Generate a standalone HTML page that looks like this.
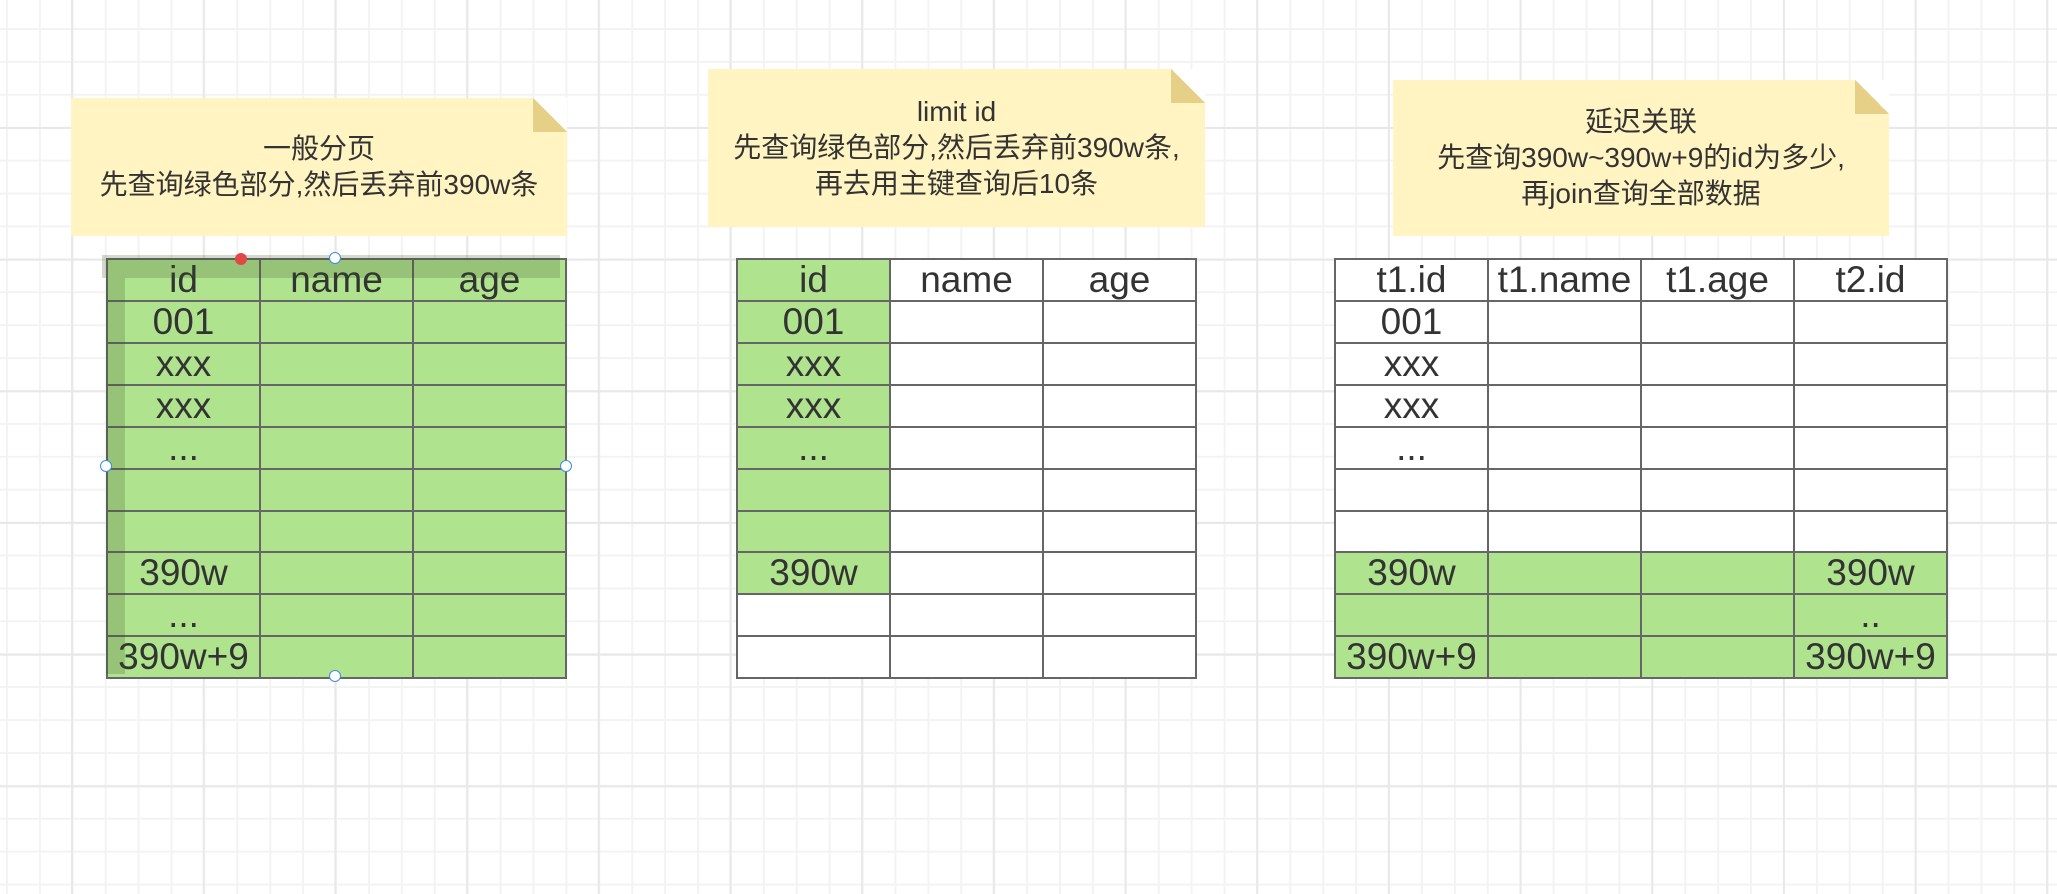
<!DOCTYPE html>
<html><head><meta charset="utf-8">
<style>
html,body{margin:0;padding:0;}
body{width:2057px;height:894px;position:relative;overflow:hidden;background-color:#fff;
background-image:
linear-gradient(to right,#e8e8e8 2px,transparent 2px),
linear-gradient(to bottom,#e8e8e8 2px,transparent 2px),
linear-gradient(to right,#f3f3f3 2px,transparent 2px),
linear-gradient(to bottom,#f3f3f3 2px,transparent 2px);
background-size:131.7px 131.7px,131.7px 131.7px,32.92px 32.92px,32.92px 32.92px;
background-position:71px 0,0 127px,6px 0,0 28px;
font-family:"Liberation Sans","Noto Sans CJK SC",sans-serif;color:#333;}
.note{position:absolute;background:#fff4c2;text-align:center;font-size:28px;line-height:36px;color:#333;
display:flex;flex-direction:column;justify-content:center;}
.fold{position:absolute;right:0;top:0;width:34px;height:34px;background:linear-gradient(to bottom left,#fff 50%,#e6cf87 50%);}
table{position:absolute;border-collapse:collapse;}
td{border:2px solid #666;width:151px;height:39.7px;padding:0;text-align:center;font-size:37px;line-height:40px;background:#fff;color:#333;}
td.g{background:#b0e38e;}
.h{position:absolute;width:10px;height:10px;border-radius:50%;border:1.5px solid #3a8ee6;background:#fff;}
</style></head><body>

<div class="note" style="left:71px;top:98px;width:496px;height:138px;"><div class="fold"></div><div>一般分页</div><div>先查询绿色部分,然后丢弃前390w条</div></div>
<div class="note" style="left:708px;top:69px;width:497px;height:158px;"><div class="fold"></div><div>limit id</div><div>先查询绿色部分,然后丢弃前390w条,</div><div>再去用主键查询后10条</div></div>
<div class="note" style="left:1393px;top:80px;width:496px;height:156px;"><div class="fold"></div><div>延迟关联</div><div>先查询390w~390w+9的id为多少,</div><div>再join查询全部数据</div></div>

<table style="left:106px;top:258px;">
<tr><td class="g">id</td><td class="g">name</td><td class="g">age</td></tr>
<tr><td class="g">001</td><td class="g"></td><td class="g"></td></tr>
<tr><td class="g">xxx</td><td class="g"></td><td class="g"></td></tr>
<tr><td class="g">xxx</td><td class="g"></td><td class="g"></td></tr>
<tr><td class="g">...</td><td class="g"></td><td class="g"></td></tr>
<tr><td class="g"></td><td class="g"></td><td class="g"></td></tr>
<tr><td class="g"></td><td class="g"></td><td class="g"></td></tr>
<tr><td class="g">390w</td><td class="g"></td><td class="g"></td></tr>
<tr><td class="g">...</td><td class="g"></td><td class="g"></td></tr>
<tr><td class="g">390w+9</td><td class="g"></td><td class="g"></td></tr>
</table>
<div style="position:absolute;left:106px;top:278px;width:19px;height:396px;background:rgba(60,80,40,0.22);"></div>
<div style="position:absolute;left:102px;top:255px;width:458px;height:23px;background:rgba(60,80,40,0.22);"></div>
<div style="position:absolute;left:235px;top:253px;width:12px;height:12px;border-radius:50%;background:#e04848;"></div>
<div class="h" style="left:329px;top:252px;"></div>
<div class="h" style="left:100px;top:460px;"></div>
<div class="h" style="left:560px;top:460px;"></div>
<div class="h" style="left:329px;top:670px;"></div>

<table style="left:736px;top:258px;">
<tr><td class="g">id</td><td>name</td><td>age</td></tr>
<tr><td class="g">001</td><td></td><td></td></tr>
<tr><td class="g">xxx</td><td></td><td></td></tr>
<tr><td class="g">xxx</td><td></td><td></td></tr>
<tr><td class="g">...</td><td></td><td></td></tr>
<tr><td class="g"></td><td></td><td></td></tr>
<tr><td class="g"></td><td></td><td></td></tr>
<tr><td class="g">390w</td><td></td><td></td></tr>
<tr><td></td><td></td><td></td></tr>
<tr><td></td><td></td><td></td></tr>
</table>

<table style="left:1334px;top:258px;">
<tr><td>t1.id</td><td>t1.name</td><td>t1.age</td><td>t2.id</td></tr>
<tr><td>001</td><td></td><td></td><td></td></tr>
<tr><td>xxx</td><td></td><td></td><td></td></tr>
<tr><td>xxx</td><td></td><td></td><td></td></tr>
<tr><td>...</td><td></td><td></td><td></td></tr>
<tr><td></td><td></td><td></td><td></td></tr>
<tr><td></td><td></td><td></td><td></td></tr>
<tr><td class="g">390w</td><td class="g"></td><td class="g"></td><td class="g">390w</td></tr>
<tr><td class="g"></td><td class="g"></td><td class="g"></td><td class="g">..</td></tr>
<tr><td class="g">390w+9</td><td class="g"></td><td class="g"></td><td class="g">390w+9</td></tr>
</table>
</body></html>
